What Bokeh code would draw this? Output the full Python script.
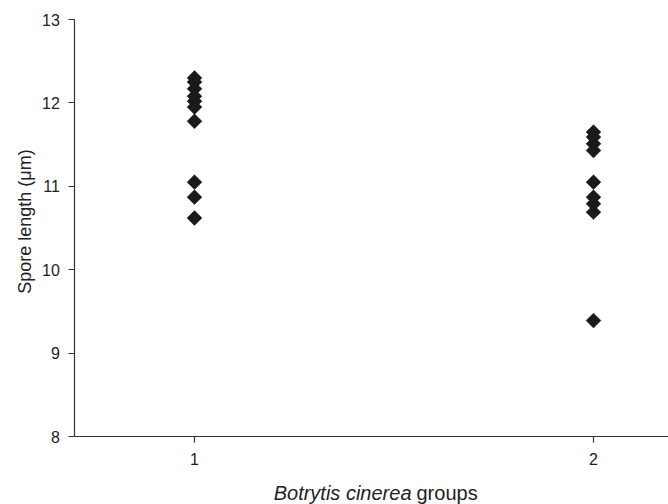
import numpy as np
from bokeh.plotting import figure
from bokeh.models import Range1d, FixedTicker, Label
from bokeh.embed import file_html
from bokeh.resources import INLINE

# Data
group1_x = [1] * 10
group1_y = [12.30, 12.25, 12.17, 12.08, 12.02, 11.95, 11.78, 11.05, 10.87, 10.62]
group2_x = [2] * 9
group2_y = [11.65, 11.59, 11.51, 11.43, 11.05, 10.87, 10.79, 10.69, 9.39]
x_ticks = [1, 2]
y_ticks = [8, 9, 10, 11, 12, 13]

FONT = "Liberation Sans"
AX = "#333333"
TXT = "#222222"

W, H = 668, 504
p = figure(width=W, height=H, output_backend="svg", toolbar_location=None,
           x_range=Range1d(0.5138, 2.188), y_range=Range1d(7.185, 13.228))
p.min_border_left = 0
p.min_border_top = 0
p.min_border_bottom = 0
p.min_border_right = 0
p.outline_line_color = None
p.grid.visible = False
p.background_fill_color = "white"

xs = group1_x + group2_x
ys = group1_y + group2_y
p.scatter(xs, ys, marker="square", size=10.5, angle=np.pi / 4,
          fill_color="#1a1a1a", line_color="#1a1a1a", line_width=0.5)

for ax in (p.xaxis[0], p.yaxis[0]):
    ax.axis_line_color = AX
    ax.axis_line_width = 1.2
    ax.major_tick_line_color = AX
    ax.major_tick_line_width = 1.2
    ax.major_tick_in = 0
    ax.major_tick_out = 6
    ax.minor_tick_line_color = None
    ax.major_label_text_font = FONT
    ax.major_label_text_font_size = "16px"
    ax.major_label_text_color = TXT

p.xaxis.ticker = FixedTicker(ticks=x_ticks)
p.yaxis.ticker = FixedTicker(ticks=y_ticks)
p.xaxis.fixed_location = 8
p.yaxis.fixed_location = 0.7
p.xaxis.bounds = (0.7, 2.188)
p.yaxis.bounds = (8, 13)
p.xaxis.major_label_standoff = 10
p.yaxis.major_label_standoff = 9

# y axis title
p.add_layout(Label(x=24, y=H - 221, x_units="screen", y_units="screen",
                   text="Spore length (\u03bcm)", angle=np.pi / 2,
                   text_align="center", text_baseline="middle",
                   text_font=FONT, text_font_size="18px",
                   text_color=TXT))

# x axis title (partly italic)
p.add_layout(Label(x=411, y=12, x_units="screen", y_units="screen",
                   text="Botrytis cinerea", text_align="right",
                   text_baseline="alphabetic", text_font=FONT,
                   text_font_size="20px", text_font_style="italic",
                   text_color=TXT))
p.add_layout(Label(x=416, y=12, x_units="screen", y_units="screen",
                   text="groups", text_align="left",
                   text_baseline="alphabetic", text_font=FONT,
                   text_font_size="20px", text_font_style="normal",
                   text_color=TXT))

open("out.html", "w").write(file_html(p, INLINE))
